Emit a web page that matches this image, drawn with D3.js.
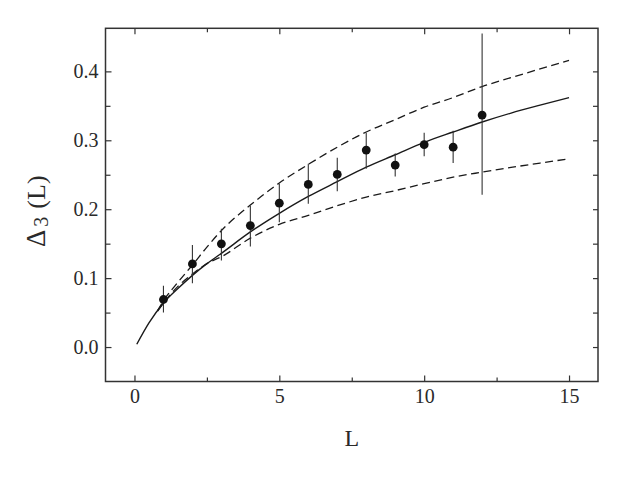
<!DOCTYPE html>
<html>
<head>
<meta charset="utf-8">
<script src="https://cdn.jsdelivr.net/npm/d3@7"></script>
<style>
	body { margin: 0; background: #fff; }
	text { font-family: "Liberation Serif", "DejaVu Serif", serif; fill: #2a2a2a; }
</style>
</head>
<body>
<div id="chart"></div>
<script>
// measured points with error bars
var pointL = [1, 2, 3, 4, 5, 6, 7, 8, 9, 10, 11, 12];
var pointDelta = [0.069, 0.1206, 0.1497, 0.1763, 0.2087, 0.236, 0.2504, 0.2858, 0.264, 0.2936, 0.29, 0.3366];
var errHigh = [0.089, 0.148, 0.1715, 0.205, 0.237, 0.266, 0.2747, 0.311, 0.281, 0.311, 0.314, 0.455];
var errLow = [0.0503, 0.0924, 0.1254, 0.146, 0.181, 0.208, 0.226, 0.2587, 0.2475, 0.277, 0.267, 0.221];

// solid curve
var solidL = [0.08, 0.5, 1, 1.5, 2, 2.5, 3, 4, 5, 6, 7, 8, 9, 10, 11, 12, 13, 14, 15];
var solidDelta = [0.004, 0.035, 0.064, 0.085, 0.104, 0.121, 0.136, 0.167, 0.194, 0.2185, 0.24, 0.261, 0.279, 0.297, 0.312, 0.3265, 0.3395, 0.351, 0.362];

// upper dashed curve
var upperL = [0.8, 1, 1.5, 2, 2.5, 3, 4, 5, 6, 7, 8, 9, 10, 11, 12, 13, 14, 15];
var upperDelta = [0.053, 0.067, 0.094, 0.119, 0.145, 0.169, 0.206, 0.238, 0.265, 0.29, 0.312, 0.33, 0.348, 0.362, 0.378, 0.391, 0.4035, 0.416];

// lower dashed curve
var lowerL = [0.8, 1, 1.5, 2, 2.5, 3, 4, 5, 6, 7, 8, 9, 10, 11, 12, 13, 14, 14.9];
var lowerDelta = [0.052, 0.064, 0.088, 0.106, 0.121, 0.131, 0.158, 0.178, 0.191, 0.205, 0.2175, 0.227, 0.237, 0.2465, 0.2538, 0.2606, 0.267, 0.2725];

var xTicks = [0, 5, 10, 15];
var xMinorTicks = [2.5, 7.5, 12.5];
var yTicks = [0.0, 0.1, 0.2, 0.3, 0.4];
var yMinorTicks = [0.05, 0.15, 0.25, 0.35];

var margin = { top: 28.3, right: 25, bottom: 102.5, left: 105.5 };
var width = 623 - margin.left - margin.right;
var height = 484 - margin.top - margin.bottom;

var svg = d3.select("#chart")
	.append("svg")
	.attr("width", 623)
	.attr("height", 484)
	.append("g")
	.attr("transform", "translate(" + margin.left + "," + margin.top + ")");

var x = d3.scaleLinear().domain([-1, 16]).range([0, width]);
var y = d3.scaleLinear().domain([-0.05, 0.4625]).range([height, 0]);

// axes, ticks pointing inward
function drawAxis(axis, transform, cls) {
	var g = svg.append("g").attr("class", cls).attr("transform", transform).call(axis);
	g.select(".domain").remove();
	g.selectAll("line").attr("stroke", "#333").attr("stroke-width", 1.2);
	return g;
}

var fmtY = d3.format(".1f");

var bottomAxis = drawAxis(d3.axisBottom(x).tickValues(xTicks).tickSize(-6).tickPadding(7.5).tickFormat(d3.format("d")),
	"translate(0," + height + ")", "x-axis");
bottomAxis.selectAll("text").attr("font-size", 20).attr("dy", "0.71em");
drawAxis(d3.axisBottom(x).tickValues(xMinorTicks).tickSize(-4).tickFormat(""), "translate(0," + height + ")", "x-minor");
drawAxis(d3.axisTop(x).tickValues(xTicks).tickSize(-6).tickFormat(""), "translate(0,0)", "x-top");
drawAxis(d3.axisTop(x).tickValues(xMinorTicks).tickSize(-4).tickFormat(""), "translate(0,0)", "x-top-minor");

var leftAxis = drawAxis(d3.axisLeft(y).tickValues(yTicks).tickSize(-6).tickPadding(7).tickFormat(fmtY), "translate(0,0)", "y-axis");
leftAxis.selectAll("text").attr("font-size", 20);
drawAxis(d3.axisLeft(y).tickValues(yMinorTicks).tickSize(-5).tickFormat(""), "translate(0,0)", "y-minor");
drawAxis(d3.axisRight(y).tickValues(yTicks).tickSize(-5).tickFormat(""), "translate(" + width + ",0)", "y-right");
drawAxis(d3.axisRight(y).tickValues(yMinorTicks).tickSize(-5).tickFormat(""), "translate(" + width + ",0)", "y-right-minor");

// frame
svg.append("rect")
	.attr("width", width)
	.attr("height", height)
	.attr("fill", "none")
	.attr("stroke", "#333")
	.attr("stroke-width", 1.5);

// curves
var line = d3.line()
	.x((d) => x(d[0]))
	.y((d) => y(d[1]))
	.curve(d3.curveMonotoneX);

svg.append("path")
	.datum(d3.zip(solidL, solidDelta))
	.attr("d", line)
	.attr("fill", "none")
	.attr("stroke", "#1a1a1a")
	.attr("stroke-width", 1.4);

[[upperL, upperDelta], [lowerL, lowerDelta]].forEach((c) => {
	svg.append("path")
		.datum(d3.zip(c[0], c[1]))
		.attr("d", line)
		.attr("fill", "none")
		.attr("stroke", "#1a1a1a")
		.attr("stroke-width", 1.3)
		.attr("stroke-dasharray", "8,4.5");
});

// error bars and points
var pts = pointL.map((L, i) => ({ L: L, v: pointDelta[i], hi: errHigh[i], lo: errLow[i] }));

svg.selectAll(".err")
	.data(pts)
	.enter()
	.append("line")
	.attr("class", "err")
	.attr("x1", (d) => x(d.L))
	.attr("x2", (d) => x(d.L))
	.attr("y1", (d) => y(d.hi))
	.attr("y2", (d) => y(d.lo))
	.attr("stroke", "#333")
	.attr("stroke-width", 1.1);

svg.selectAll(".pt")
	.data(pts)
	.enter()
	.append("circle")
	.attr("class", "pt")
	.attr("cx", (d) => x(d.L))
	.attr("cy", (d) => y(d.v))
	.attr("r", 4.4)
	.attr("fill", "#111");

// axis titles
svg.append("text")
	.attr("x", x(7.5))
	.attr("y", height + 64.5)
	.attr("text-anchor", "middle")
	.attr("font-size", 24)
	.text("L");

var yTitle = svg.append("text")
	.attr("transform", "translate(" + (45 - margin.left) + "," + (247 - margin.top) + ") rotate(-90)")
	.attr("text-anchor", "start")
	.attr("font-size", 27);
yTitle.append("tspan").text("Δ");
yTitle.append("tspan").attr("font-size", 20).attr("dx", 3).attr("dy", 3).text("3");
yTitle.append("tspan").attr("dx", 8).attr("dy", -3).attr("font-size", 26).text("(L)");
</script>
</body>
</html>
